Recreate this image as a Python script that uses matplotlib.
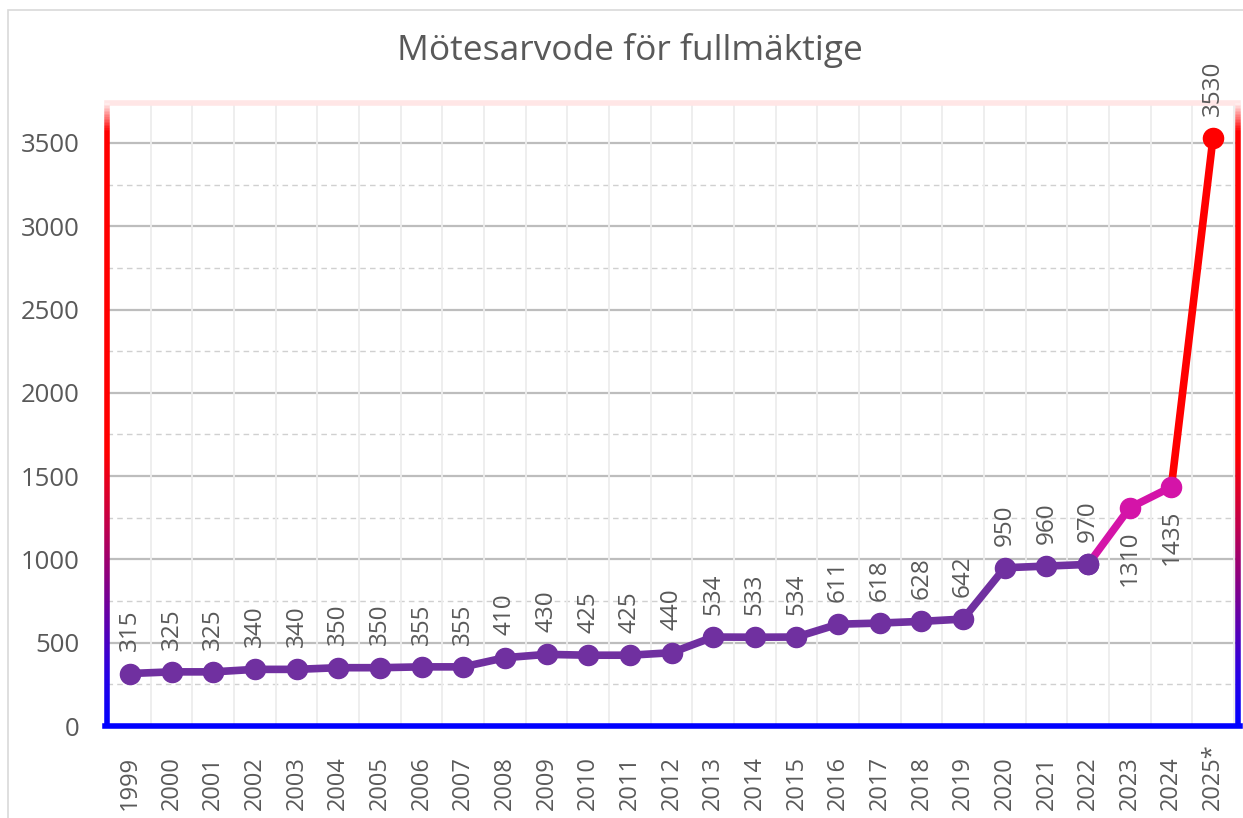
import matplotlib
matplotlib.use("Agg")
import matplotlib.pyplot as plt
import matplotlib.transforms as mtransforms
import numpy as np
from matplotlib.collections import LineCollection
from matplotlib.patches import Rectangle

years = ["1999", "2000", "2001", "2002", "2003", "2004", "2005", "2006", "2007",
         "2008", "2009", "2010", "2011", "2012", "2013", "2014", "2015", "2016",
         "2017", "2018", "2019", "2020", "2021", "2022", "2023", "2024", "2025*"]
values = [315, 325, 325, 340, 340, 350, 350, 355, 355, 410, 430, 425, 425, 440,
          534, 533, 534, 611, 618, 628, 642, 950, 960, 970, 1310, 1435, 3530]
title = "Mötesarvode för fullmäktige"

plt.rcParams['font.family'] = ['Open Sans', 'DejaVu Sans']
text_col = "#595959"

fig = plt.figure(figsize=(12.43, 8.18), dpi=100)
ax = fig.add_axes([107/1243, (818-726)/818, (1238-107)/1243, (726-103)/818])

# outer chart border
fig.patches.append(Rectangle((8/1243, -0.1), 1.2, (818-10)/818 + 0.1,
                             transform=fig.transFigure, fill=False,
                             edgecolor="#D9D9D9", lw=1.2))

n = len(years)
x = np.arange(n)
ax.set_xlim(-0.552, n - 1 + 0.6)
ax.set_ylim(0, 3740)

# gridlines
for yv in range(250, 3740, 500):
    ax.axhline(yv, color="#D0D0D0", lw=1, ls=(0, (4, 3)), zorder=0)
for yv in range(500, 3740, 500):
    ax.axhline(yv, color="#BDBDBD", lw=1.6, zorder=0)
for xv in np.arange(-0.5, n, 1.0)[1:]:
    ax.axvline(xv, color="#EDEDED", lw=1.3, zorder=0)

for s in ax.spines.values():
    s.set_visible(False)

# gradient border
def grad_color(f):
    stops = [(0.0, (0, 0, 1)), (0.08, (0.15, 0.0, 0.9)), (0.22, (0.5, 0.0, 0.55)),
             (0.32, (0.75, 0.0, 0.3)), (0.44, (1, 0, 0)), (0.955, (1, 0, 0)),
             (1.0, (1, 0.95, 0.95))]
    for (f0, c0), (f1, c1) in zip(stops[:-1], stops[1:]):
        if f0 <= f <= f1:
            t = (f - f0) / (f1 - f0)
            return tuple(a + (b - a) * t for a, b in zip(c0, c1))
    return stops[-1][1]

ys = np.linspace(0, 1, 400)
for xe in (0.0, 1.0):
    segs = [[(xe, ys[i]), (xe, ys[i+1])] for i in range(len(ys)-1)]
    cols = [grad_color((ys[i]+ys[i+1])/2) for i in range(len(ys)-1)]
    lc = LineCollection(segs, colors=cols, linewidths=4, transform=ax.transAxes,
                        clip_on=False, zorder=5, capstyle="butt")
    ax.add_collection(lc)
ax.plot([0, 1], [1, 1], transform=ax.transAxes, color="#FFE6E6", lw=4,
        clip_on=False, zorder=4)
ax.plot([-0.0015, 1.0015], [0, 0], transform=ax.transAxes, color="#0000FF", lw=4,
        clip_on=False, zorder=6, solid_capstyle="projecting")

purple = "#7030A0"
magenta = "#D414A8"
red = "#FF0000"
ms = 14.5
lw = 5.5

ax.plot(x[:24], values[:24], color=purple, lw=lw, marker="o", ms=ms, zorder=7)
ax.plot(x[23:26], values[23:26], color=magenta, lw=lw, zorder=7)
ax.plot(x[24:26], values[24:26], color=magenta, lw=0, marker="o", ms=ms, zorder=8)
ax.plot(x[25:27], values[25:27], color=red, lw=lw, zorder=7)
ax.plot(x[26:27], values[26:27], color=red, lw=0, marker="o", ms=ms, zorder=8)
ax.plot(x[23:24], values[23:24], color=purple, lw=0, marker="o", ms=ms, zorder=9)

for i, (xi, v) in enumerate(zip(x, values)):
    below = years[i] in ("2023", "2024")
    ax.annotate(str(v), (xi, v), xytext=(0, -16 if below else 16),
                textcoords="offset points", rotation=90, ha="center",
                va="top" if below else "bottom", fontsize=17.5, color=text_col,
                zorder=10, annotation_clip=False)

# category labels, bottom-aligned like the reference
ax.set_xticks(x)
ax.set_xticklabels([])
ax.tick_params(axis="x", length=0)
trans = mtransforms.blended_transform_factory(ax.transData, ax.transAxes)
ybase = -(810 - 726) / 623
for xi, lab in zip(x, years):
    ax.text(xi, ybase, lab, rotation=90, ha="center", va="bottom",
            fontsize=17, color=text_col, transform=trans, clip_on=False)

ax.set_yticks(range(0, 3501, 500))
ax.set_yticklabels([str(v) for v in range(0, 3501, 500)], fontsize=18.5, color=text_col)
ax.tick_params(axis="y", length=0, pad=20)

fig.text(630 / 1243, 1 - 50/818, title, ha="center", va="center",
         fontsize=25.5, color=text_col)

fig.savefig("out.png", dpi=100)
